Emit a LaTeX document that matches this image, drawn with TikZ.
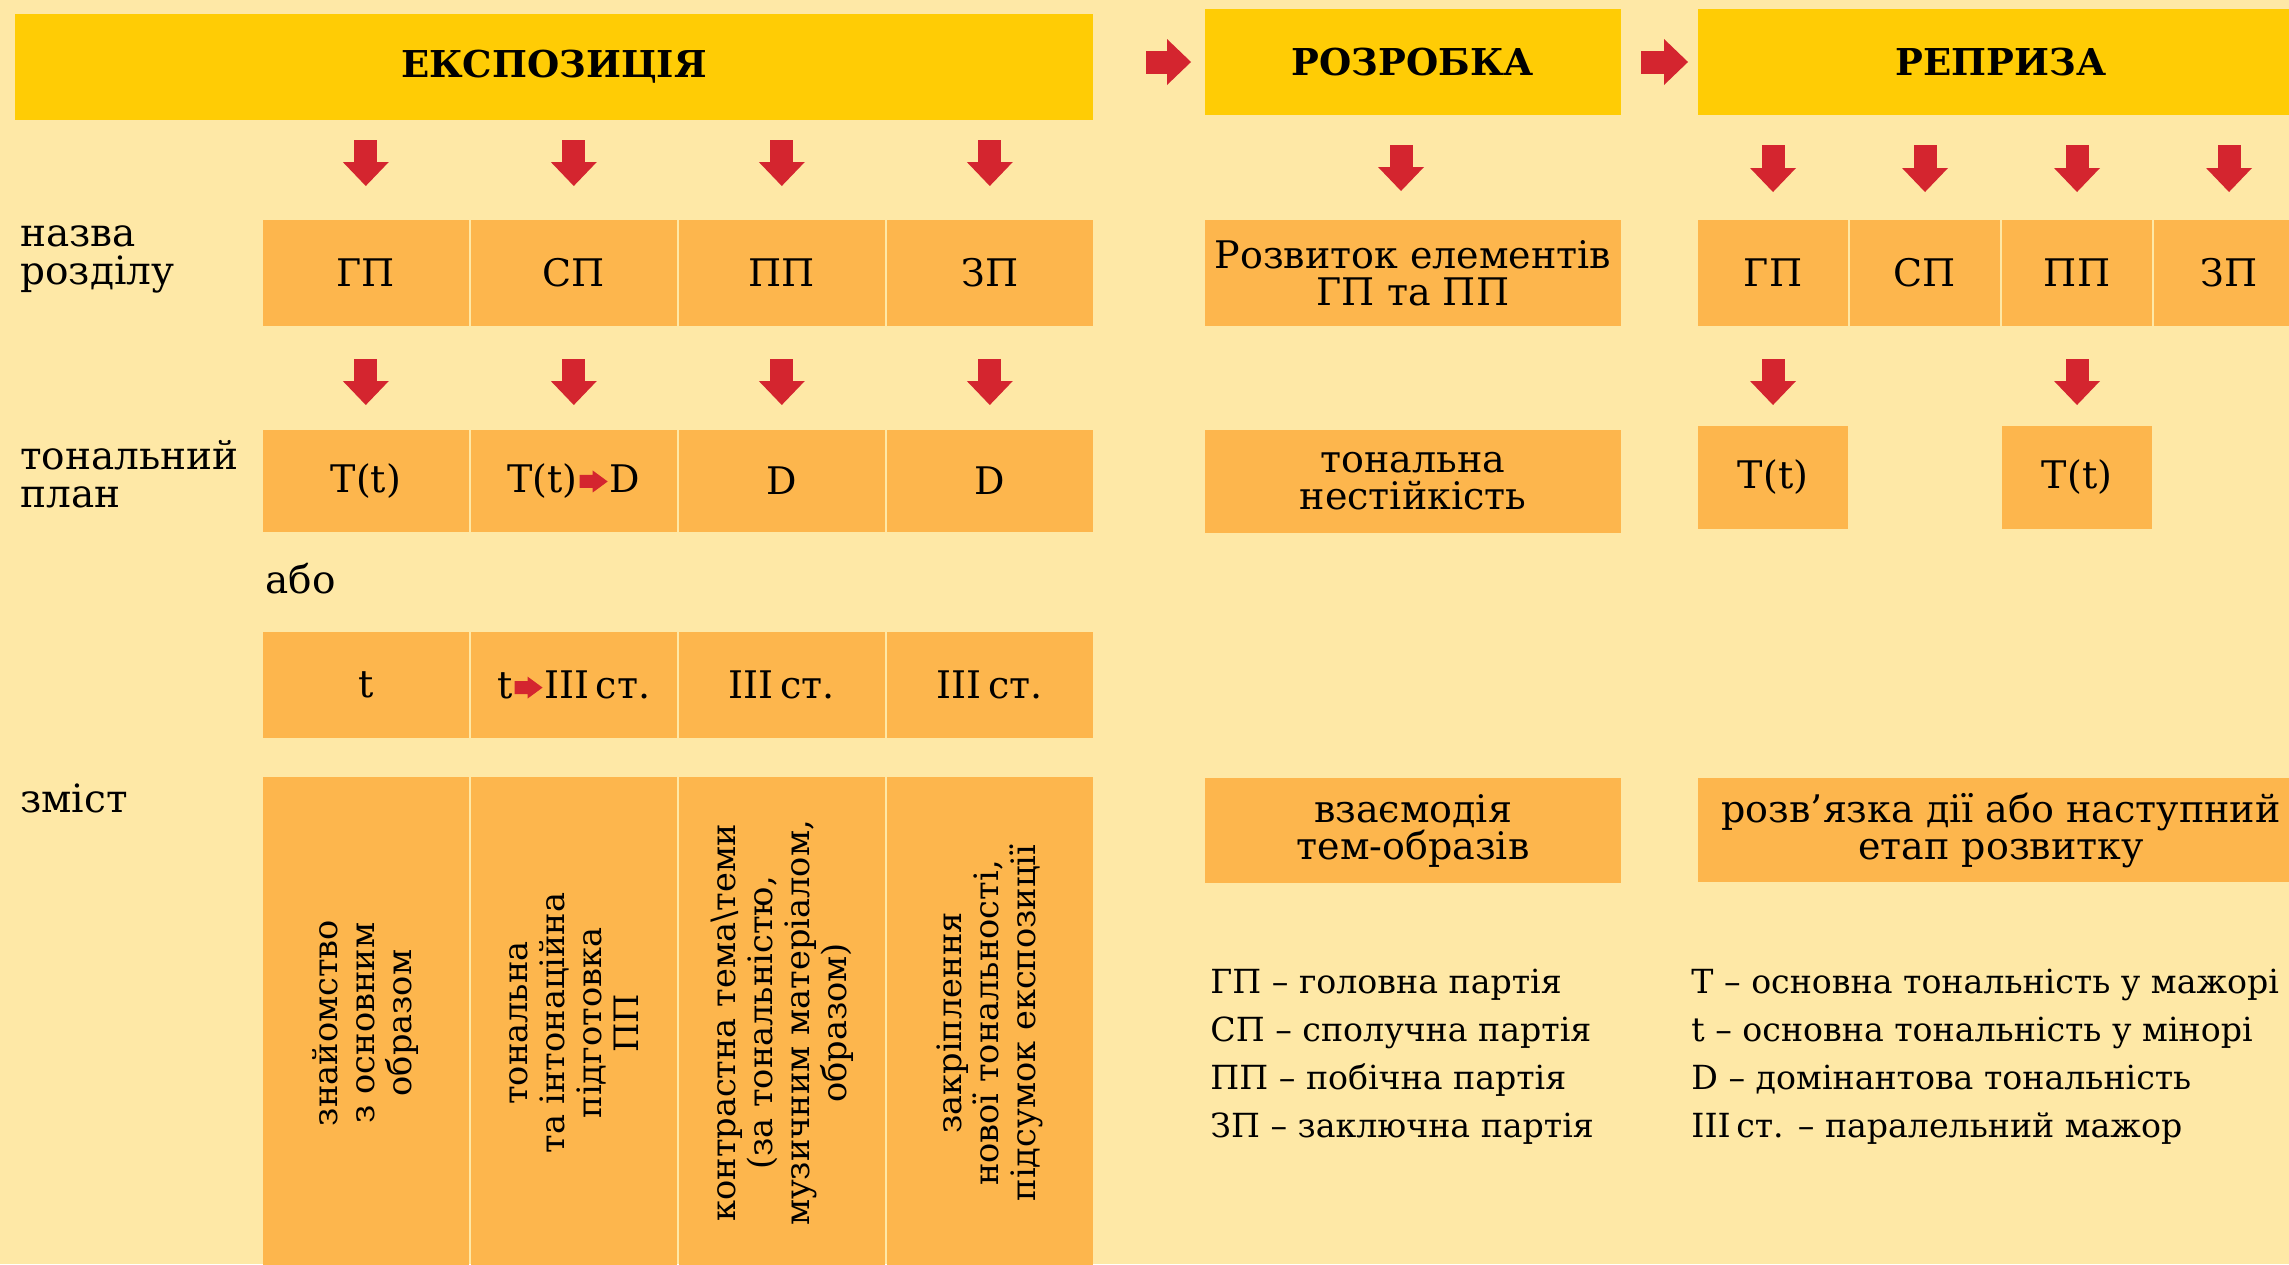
\documentclass[tikz,border=0pt]{standalone}
\usepackage{fontspec}
\setmainfont{DejaVu Serif}
\usetikzlibrary{arrows.meta,positioning}
\definecolor{pagebg}{RGB}{254,232,166}
\definecolor{stagefill}{RGB}{255,204,5}
\definecolor{cellfill}{RGB}{253,182,77}
\definecolor{arrred}{RGB}{212,37,47}
\newcommand{\redto}{\tikz[baseline=-5.5pt]\fill[arrred] (0,-3.25pt) -- (6.5pt,-3.25pt) -- (6.5pt,-5.5pt) -- (14pt,0pt) -- (6.5pt,5.5pt) -- (6.5pt,3.25pt) -- (0,3.25pt) -- cycle;}

\begin{document}
\begin{tikzpicture}[
  font=\fontsize{19}{18.5}\selectfont,
  node distance=1.25pt,
  stage/.style={fill=stagefill, inner sep=0pt, outer sep=0pt, minimum height=53pt,
    font=\fontsize{18.5}{22}\selectfont\bfseries},
  cell/.style={fill=cellfill, inner sep=0pt, outer sep=0pt,
    minimum width=102.75pt, minimum height=53pt, align=center},
  rcell/.style={cell, minimum width=75pt},
  wide/.style={cell, minimum width=208pt},
  rowname/.style={anchor=west, align=left, inner sep=0pt, font=\fontsize{19.5}{19}\selectfont},
  vtext/.style={rotate=90, align=center, font=\fontsize{16.8}{18.5}\selectfont},
  flow/.style={arrred, line width=11.5pt, -{Triangle[width=23pt,length=12pt,line width=0pt]}},
  note/.style={anchor=base west, inner sep=0pt, font=\fontsize{16.6}{20}\selectfont}
]
\useasboundingbox (0,0) rectangle (1144.5pt,-632pt);
\clip (0,0) rectangle (1144.5pt,-632pt);
\fill[pagebg] (0,0) rectangle (1144.5pt,-632pt);

% stages
\node[stage, minimum width=539pt] (expo) at (277pt,-33.5pt) {ЕКСПОЗИЦІЯ};
\node[stage, minimum width=208pt] (razr) at (706.5pt,-31pt) {РОЗРОБКА};
\node[stage, minimum width=303pt] (repr) at (1000.5pt,-31pt) {РЕПРИЗА};
\draw[flow, shorten <=26.5pt, shorten >=7pt] (expo.east |- razr.west) -- (razr.west);
\draw[flow, shorten <=10pt, shorten >=5pt] (razr.east) -- (repr.west);

% row names
\node[rowname] (namerow) at (10pt,-129.5pt) {назва\\розділу};
\node[rowname] (keyrow) at (10pt,-237pt) {тональний\\план};
\node[rowname] (orrow) at (132.5pt,-289.5pt) {або};
\node[rowname] (textrow) at (10pt,-399pt) {зміст};

% exposition
\node[cell] (gp) at (182.9pt,-136.5pt) {ГП};
\node[cell, right=of gp] (sp) {СП};
\node[cell, right=of sp] (pp) {ПП};
\node[cell, right=of pp] (zp) {ЗП};

\node[cell, minimum height=51pt, below=52pt of gp] (gpkey) {T(t)};
\node[cell, minimum height=51pt, right=of gpkey] (spkey) {T(t)\kern1pt\redto\kern1pt D};
\node[cell, minimum height=51pt, right=of spkey] (ppkey) {D};
\node[cell, minimum height=51pt, right=of ppkey] (zpkey) {D};

\node[cell, below=50pt of gpkey] (gpalt) {t};
\node[cell, right=of gpalt] (spalt) {t\kern1pt\redto\kern1pt III\,ст.};
\node[cell, right=of spalt] (ppalt) {III\,ст.};
\node[cell, right=of ppalt] (zpalt) {III\,ст.};

\node[cell, minimum height=256pt, below=19.5pt of gpalt] (gpbody) {};
\node[cell, minimum height=256pt, right=of gpbody] (spbody) {};
\node[cell, minimum height=256pt, right=of spbody] (ppbody) {};
\node[cell, minimum height=256pt, right=of ppbody] (zpbody) {};
\node[vtext] (gpidea) at ([yshift=5pt]gpbody.center) {знайомство\\з основним\\образом};
\node[vtext] (spidea) at ([yshift=5pt]spbody.center) {тональна\\та інтонаційна\\підготовка\\ПП};
\node[vtext] (ppidea) at ([yshift=5pt]ppbody.center) {контрастна тема\textbackslash теми\\(за тональністю,\\музичним матеріалом,\\образом)};
\node[vtext] (zpidea) at ([yshift=5pt]zpbody.center) {закріплення\\нової тональності,\\підсумок експозиції};

\draw[flow, shorten <=10pt, shorten >=17pt] (expo.south -| gp) -- (gp);
\draw[flow, shorten <=10pt, shorten >=17pt] (expo.south -| sp) -- (sp);
\draw[flow, shorten <=10pt, shorten >=17pt] (expo.south -| pp) -- (pp);
\draw[flow, shorten <=10pt, shorten >=17pt] (expo.south -| zp) -- (zp);
\draw[flow, shorten <=16.5pt, shorten >=12.5pt] (gp) -- (gpkey);
\draw[flow, shorten <=16.5pt, shorten >=12.5pt] (sp) -- (spkey);
\draw[flow, shorten <=16.5pt, shorten >=12.5pt] (pp) -- (ppkey);
\draw[flow, shorten <=16.5pt, shorten >=12.5pt] (zp) -- (zpkey);

% development
\node[wide, below=52.5pt of razr] (devel) {Розвиток елементів\\ГП та ПП};
\node[wide, minimum height=51.5pt, below=52pt of devel] (unstable) {тональна\\нестійкість};
\node[wide, minimum height=52.5pt, below=122.5pt of unstable] (interplay) {взаємодія\\тем-образів};
\draw[flow, shorten <=15pt, shorten >=14.5pt] ([xshift=-6pt]razr.south) -- ([xshift=-6pt]devel.north);

% recapitulation
\node[rcell] (rgp) at (886.5pt,-136.5pt) {ГП};
\node[rcell, right=1pt of rgp] (rsp) {СП};
\node[rcell, right=1pt of rsp] (rpp) {ПП};
\node[rcell, right=1pt of rpp] (rzp) {ЗП};
\node[rcell, minimum height=51.5pt, below=50pt of rgp] (rgpkey) {T(t)};
\node[rcell, minimum height=51.5pt, below=50pt of rpp] (rppkey) {T(t)};
\node[cell, minimum width=303pt, minimum height=52pt] (outcome) at (1000.5pt,-415pt) {розв’язка дії або наступний\\етап розвитку};

\draw[flow, shorten <=15pt, shorten >=14pt] (repr.south -| rgp) -- (rgp);
\draw[flow, shorten <=15pt, shorten >=14pt] (repr.south -| rsp) -- (rsp);
\draw[flow, shorten <=15pt, shorten >=14pt] (repr.south -| rpp) -- (rpp);
\draw[flow, shorten <=15pt, shorten >=14pt] (repr.south -| rzp) -- (rzp);
\draw[flow, shorten <=16.5pt, shorten >=10.5pt] (rgp) -- (rgpkey);
\draw[flow, shorten <=16.5pt, shorten >=10.5pt] (rpp) -- (rppkey);

% legend
\node[note] (kgp) at (605pt,-496.5pt) {ГП – головна партія};
\node[note] (ksp) at (605pt,-520.5pt) {СП – сполучна партія};
\node[note] (kpp) at (605pt,-544.5pt) {ПП – побічна партія};
\node[note] (kzp) at (605pt,-568.5pt) {ЗП – заключна партія};
\node[note] (kmaj) at (845.5pt,-496.5pt) {T – основна тональність у мажорі};
\node[note] (kmin) at (845.5pt,-520.5pt) {t – основна тональність у мінорі};
\node[note] (kdom) at (845.5pt,-544.5pt) {D – домінантова тональність};
\node[note] (kpar) at (845.5pt,-568.5pt) {III\,ст. – паралельний мажор};
\end{tikzpicture}
\end{document}
